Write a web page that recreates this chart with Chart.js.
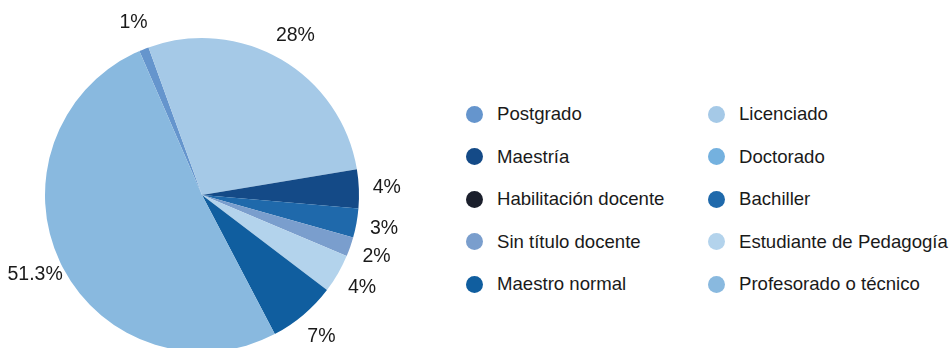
<!DOCTYPE html>
<html>
<head>
<meta charset="utf-8">
<script src="https://cdn.jsdelivr.net/npm/chart.js@4"></script>
<style>
  html, body { margin: 0; padding: 0; background: #fff; overflow: hidden; }
  body { width: 949px; height: 348px; position: relative; font-family: "Liberation Sans", Arial, sans-serif; }
  #pieWrap { position: absolute; left: 0; top: 0; width: 430px; height: 390px; }
  #legend { position: absolute; left: 466px; top: 93px; display: grid; grid-template-columns: 242px 260px; grid-auto-rows: 42.5px; }
  .item { display: flex; align-items: center; color: #1a1a1a; font-size: 18.6px; height: 42.5px; white-space: nowrap; }
  .dot { width: 17px; height: 17px; border-radius: 50%; margin-right: 14px; flex: none; }
</style>
</head>
<body>
<div id="pieWrap"><canvas id="pieChart"></canvas></div>
<div id="legend"></div>
<script>
// Teacher qualification categories, in slice order (clockwise)
const categories = [
  'Postgrado', 'Licenciado', 'Maestría', 'Doctorado', 'Habilitación docente',
  'Bachiller', 'Sin título docente', 'Estudiante de Pedagogía', 'Maestro normal',
  'Profesorado o técnico'
];
const shares = [1, 28, 4, 0, 0, 3, 2, 4, 7, 51.3];
const colors = [
  '#6595cd', '#a5c9e7', '#144a87', '#74b1df', '#1b1f2c',
  '#1f69ab', '#7a9ecd', '#b3d3ec', '#105e9f', '#89b9df'
];

// Percentage labels placed just outside each slice
const outsideLabels = {
  id: 'outsideLabels',
  afterDatasetsDraw(chart) {
    const ctx = chart.ctx;
    const meta = chart.getDatasetMeta(0);
    ctx.save();
    ctx.font = '19.5px "Liberation Sans", Arial, sans-serif';
    ctx.fillStyle = '#1a1a1a';
    ctx.textAlign = 'center';
    ctx.textBaseline = 'middle';
    meta.data.forEach((arc, i) => {
      const v = shares[i];
      if (!v) return;
      const { x, y, startAngle, endAngle, outerRadius } = arc.getProps(['x', 'y', 'startAngle', 'endAngle', 'outerRadius'], true);
      const mid = (startAngle + endAngle) / 2;
      const r = outerRadius + 28;
      ctx.fillText(v + '%', x + Math.cos(mid) * r, y + Math.sin(mid) * r);
    });
    ctx.restore();
  }
};

new Chart(document.getElementById('pieChart'), {
  type: 'pie',
  data: {
    labels: categories,
    datasets: [{
      data: shares,
      backgroundColor: colors,
      borderWidth: 0
    }]
  },
  options: {
    responsive: true,
    maintainAspectRatio: false,
    animation: false,
    rotation: -23.5,
    layout: { padding: { left: 45, right: 71, top: 38, bottom: 38 } },
    plugins: {
      legend: { display: false },
      tooltip: { enabled: false }
    }
  },
  plugins: [outsideLabels]
});

// Two-column legend, filled row by row
const legend = document.getElementById('legend');
legend.innerHTML = categories.map((name, i) => `
  <div class="item"><span class="dot" style="background:${colors[i]}"></span>${name}</div>
`).join('');
</script>
</body>
</html>
